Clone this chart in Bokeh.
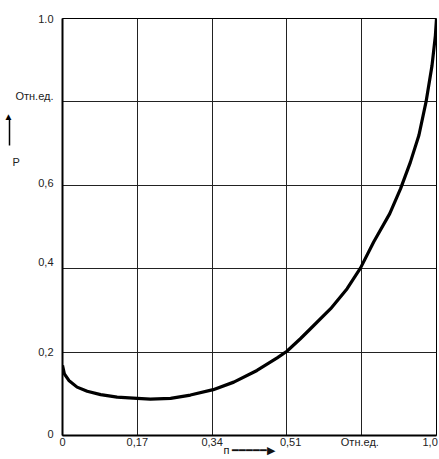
from bokeh.plotting import figure
from bokeh.models import FixedTicker, LinearAxis, Range1d
from bokeh.embed import file_html
from bokeh.resources import INLINE

# curve data (relative units)
n_vals = [0.0, 0.005, 0.017, 0.039, 0.066, 0.102, 0.146, 0.2, 0.235, 0.289, 0.342,
          0.403, 0.458, 0.52, 0.574, 0.6, 0.636, 0.663, 0.717, 0.761, 0.797, 0.832,
          0.875, 0.904, 0.930, 0.953, 0.972, 0.988, 0.997, 1.0]
p_vals = [0.168, 0.148, 0.132, 0.116, 0.106, 0.098, 0.092, 0.089, 0.087, 0.089, 0.097,
          0.110, 0.128, 0.156, 0.186, 0.202, 0.232, 0.256, 0.304, 0.352, 0.402, 0.464,
          0.532, 0.592, 0.655, 0.72, 0.8, 0.887, 0.959, 1.0]

grid_vals = [0.2, 0.4, 0.6, 0.8]

x_label_pos = [0, 0.2, 0.4, 0.61, 0.795, 0.983]
x_tick_labels = ["0", "0,17", "0,34", "0,51", "Отн.ед.", "1,0"]
y_label_pos = [0.004, 0.2, 0.415, 0.605, 0.815, 1.0]
y_tick_labels = ["0", "0,2", "0,4", "0,6", "Отн.ед.", "1.0"]

NB = "\u00a0"
y_name_pos = [0.655]
y_name_labels = ["P" + NB * 11]
arrow_head_pos = [0.766]
x_name = "п " + "\u2501" * 5 + "\u25b6"

FONT = "Liberation Sans"
FS = "11px"

p = figure(width=439, height=459, output_backend="svg", toolbar_location=None,
           x_range=Range1d(0, 1), y_range=Range1d(0, 1),
           min_border_left=62, min_border_right=3, min_border_top=18, min_border_bottom=24)

p.outline_line_color = "black"
p.outline_line_width = 1
p.background_fill_color = "white"
p.border_fill_color = "white"

xt = list(x_label_pos)
xl = list(x_tick_labels)
yt = list(y_label_pos) + y_name_pos
yl = list(y_tick_labels) + y_name_labels

for ax, ticks, labels in ((p.xaxis[0], xt, xl), (p.yaxis[0], yt, yl)):
    ax.ticker = FixedTicker(ticks=ticks)
    ax.major_label_overrides = {t: l for t, l in zip(ticks, labels)}
    ax.major_tick_line_color = None
    ax.minor_tick_line_color = None
    ax.major_tick_out = 0
    ax.major_tick_in = 0
    ax.minor_tick_out = 0
    ax.axis_line_color = "black"
    ax.axis_line_width = 2
    ax.major_label_text_font = FONT
    ax.major_label_text_font_size = FS
    ax.major_label_text_color = "#222222"

p.xaxis.major_label_standoff = 0
p.yaxis.major_label_standoff = 9

p.xaxis.axis_label = x_name
p.xaxis.axis_label_standoff = -7
p.xaxis.axis_label_text_font = FONT
p.xaxis.axis_label_text_font_size = FS
p.xaxis.axis_label_text_font_style = "normal"
p.xaxis.axis_label_text_color = "#111111"

# vertical arrow: extra axis line limited by bounds, head as its tick label
shaft = LinearAxis(bounds=(0.695, 0.757),
                   ticker=FixedTicker(ticks=arrow_head_pos),
                   major_label_overrides={arrow_head_pos[0]: "\u25b2"},
                   axis_line_color="black", axis_line_width=1.5,
                   major_tick_line_color=None, minor_tick_line_color=None,
                   major_tick_out=0, major_tick_in=0, minor_tick_out=0, minor_tick_in=0,
                   major_label_standoff=-4, major_label_text_font_size="10px",
                   major_label_text_color="black")
p.add_layout(shaft, "left")

p.xgrid.ticker = FixedTicker(ticks=grid_vals)
p.ygrid.ticker = FixedTicker(ticks=grid_vals)
p.grid.grid_line_color = "#222222"
p.grid.grid_line_width = 1
p.grid.grid_line_alpha = 1.0

p.line(n_vals, p_vals, line_color="black", line_width=3.2)

open("out.html", "w").write(file_html(p, INLINE))
